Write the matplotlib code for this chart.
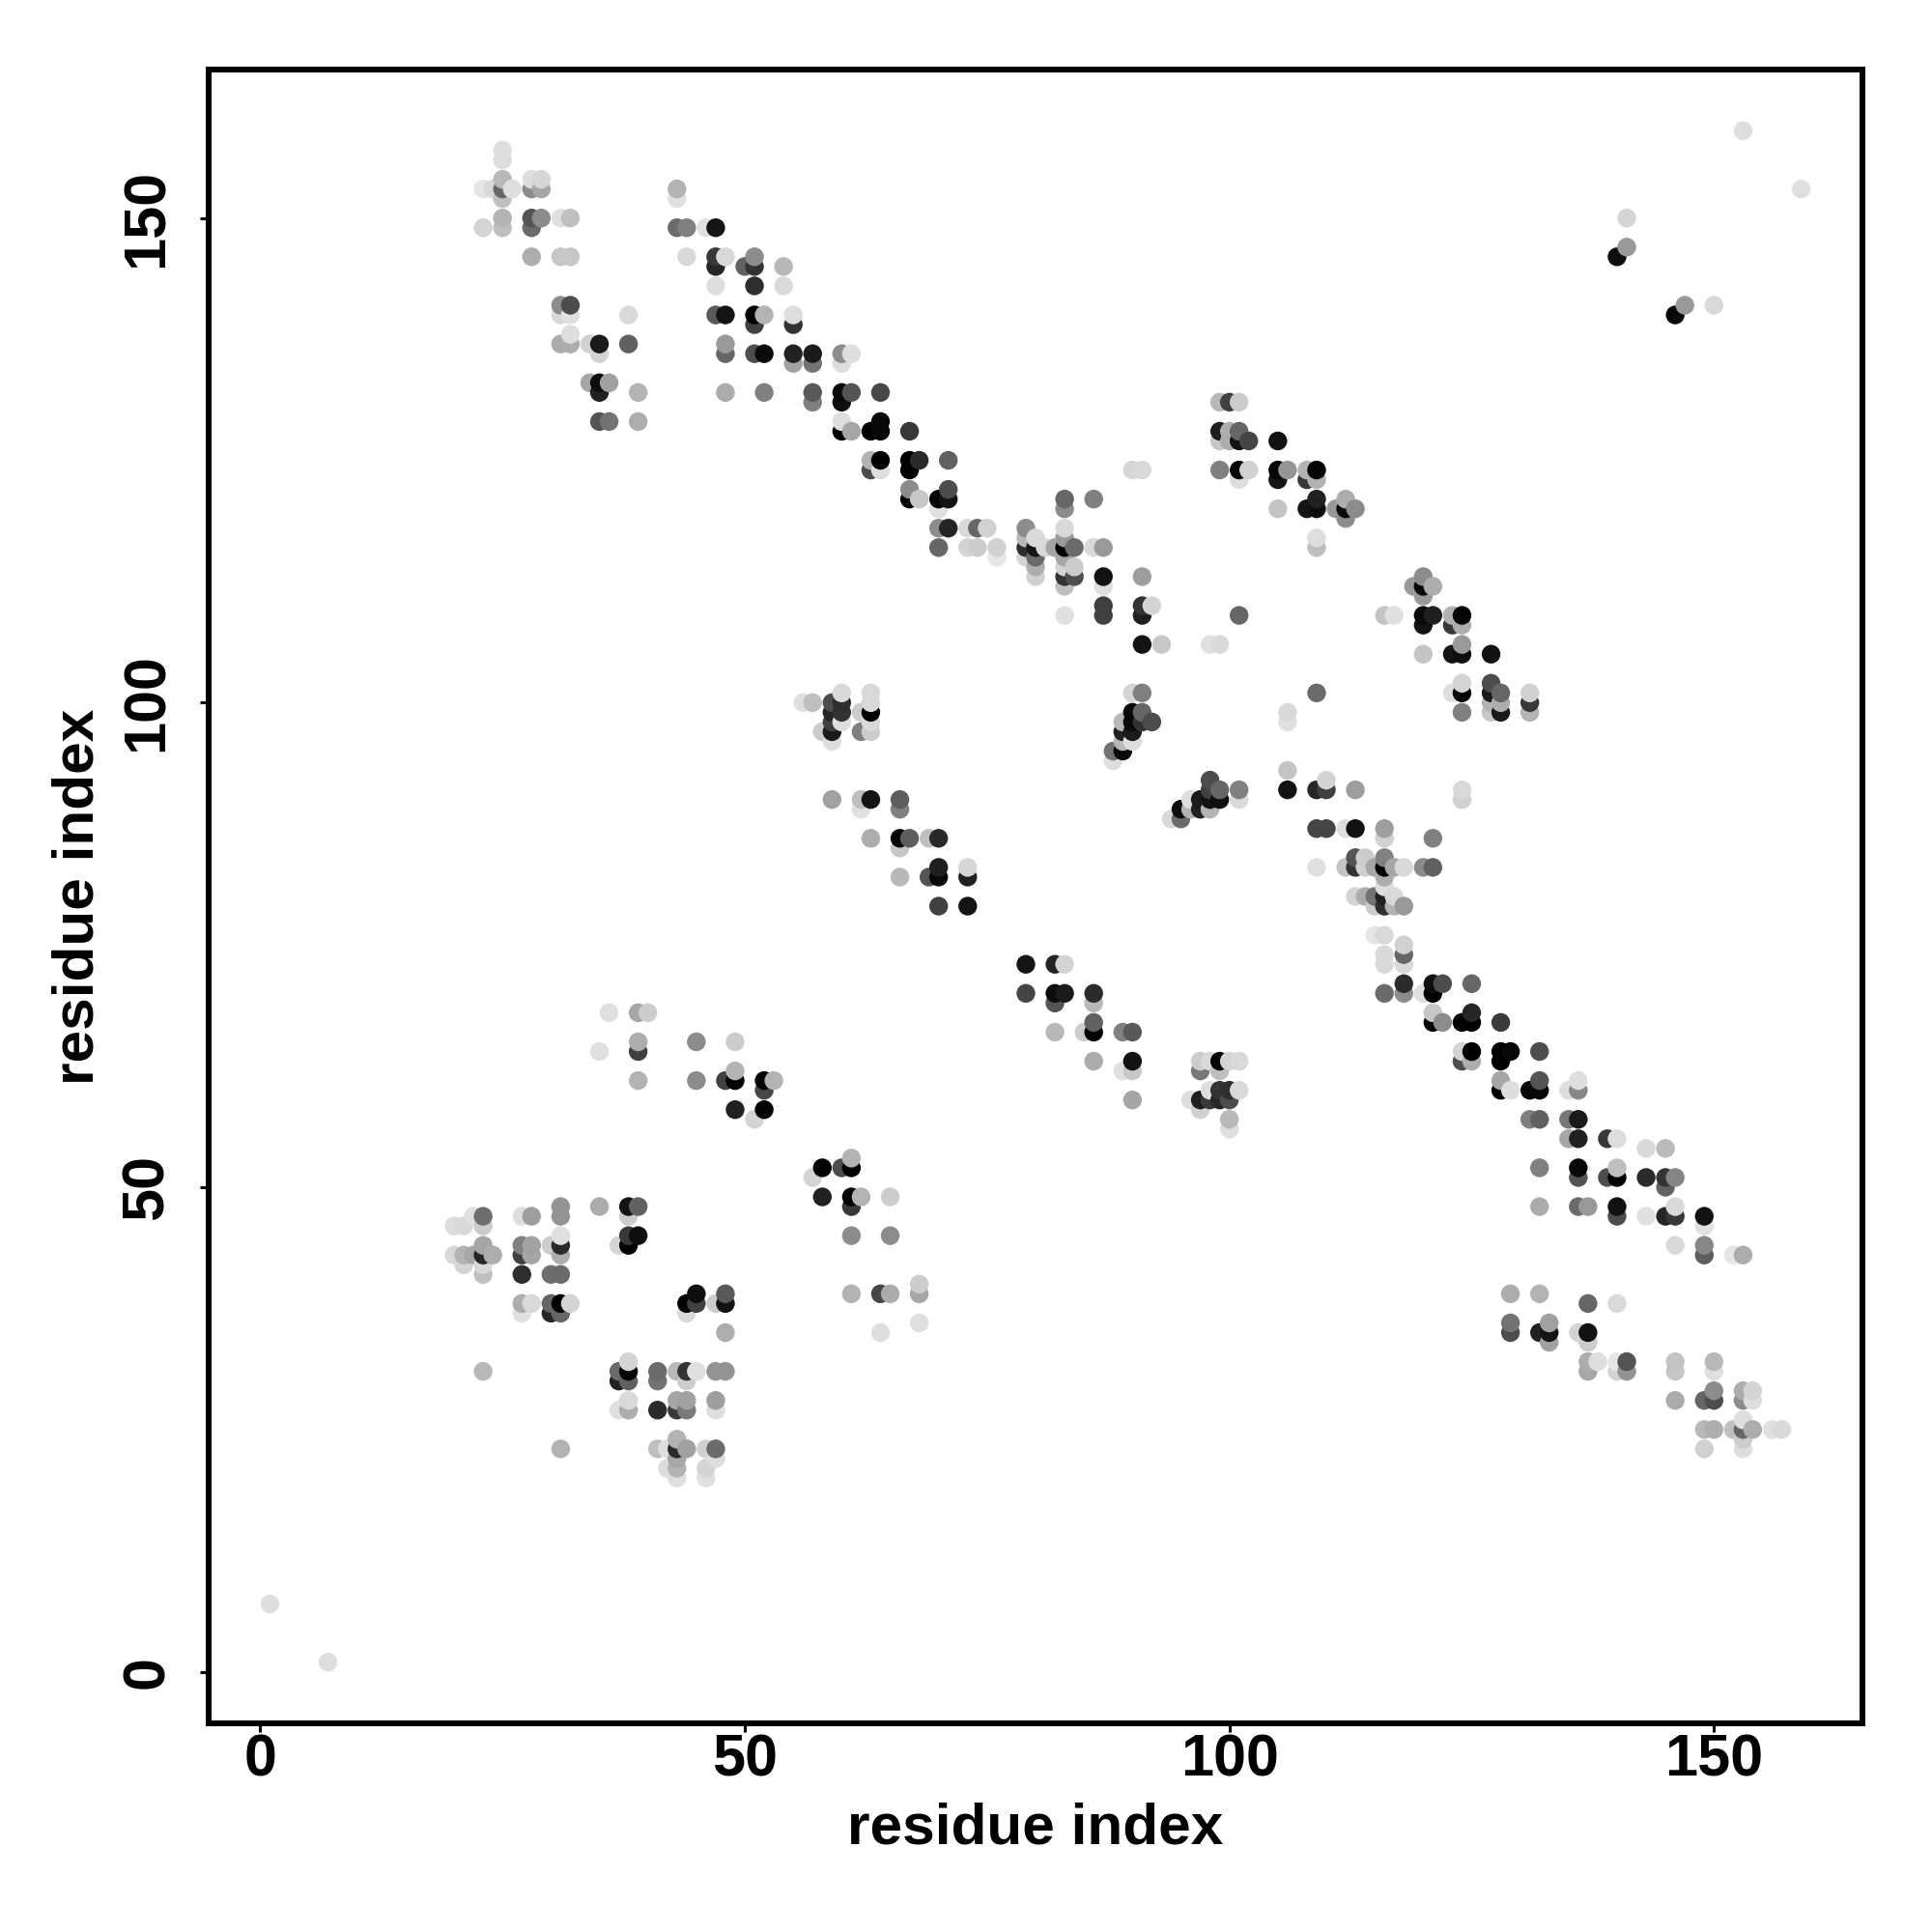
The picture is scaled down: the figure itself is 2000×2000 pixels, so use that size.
import numpy as np
import matplotlib
matplotlib.use("Agg")
import matplotlib.pyplot as plt

plt.rcParams['font.family'] = ['Liberation Sans', 'DejaVu Sans']

# residue pairs, one block per row of contacts (y, then x + shade)
rows = {
    159: [(153, .87)],
    157: [(25, .87)],
    156: [(25, .87)],
    154: [(25, .72), (28, .87), (29, .84)],
    153: [(23, .9), (24, .85), (25, .4), (26, .87), (28, .55), (29, .65), (43, .7), (159, .88)],
    152: [(25, .75), (43, .88)],
    150: [(25, .7), (28, .33), (29, .55), (31, .88), (32, .75), (141, .83)],
    149: [(23, .83), (25, .75), (28, .42), (43, .42), (44, .5), (46, .88), (47, .08)],
    147: [(141, .6)],
    146: [(28, .68), (31, .78), (32, .78), (44, .85), (47, .22), (48, .85), (51, .55), (140, .05)],
    145: [(47, .15), (50, .38), (51, .2), (54, .72)],
    143: [(47, .87), (51, .18), (54, .85)],
    141: [(31, .55), (32, .3), (147, .6), (150, .85)],
    140: [(31, .85), (32, .88), (38, .85), (47, .35), (48, .08), (51, 0), (52, .7), (55, .87), (146, .03)],
    139: [(51, .25), (55, .2)],
    138: [(32, .87)],
    137: [(31, .67), (32, .68), (34, .82), (35, .1), (38, .38), (48, .6)],
    136: [(35, .83), (48, .4), (51, .3), (52, .04), (55, .13), (57, .1), (60, .55), (61, .87)],
    135: [(55, .63), (57, .45), (60, .87)],
    133: [(34, .65), (35, .05), (36, .63)],
    132: [(35, .13), (39, .7), (48, .67), (52, .5), (57, .35), (60, .04), (61, .33), (64, .28)],
    131: [(57, .5), (60, .06), (99, .72), (100, .25), (101, .8)],
    129: [(35, .33), (36, .45), (39, .68), (60, .87), (64, .03)],
    128: [(60, 0), (61, .65), (63, 0), (64, .03), (67, .22), (99, .12), (100, .68), (101, .4)],
    127: [(99, .78), (100, .68), (101, .08), (102, .27), (105, .07)],
    125: [(63, .7), (64, 0), (67, 0), (68, .17), (71, .38)],
    124: [(63, .3), (64, .87), (67, 0), (90, .84), (91, .85), (99, .5), (101, .03), (102, .82),
          (105, .02), (106, .58), (108, .7), (109, .02)],
    123: [(101, .87), (105, .08), (108, .22), (109, .7)],
    122: [(67, .55), (71, .3)],
    121: [(67, 0), (68, .78), (70, .02), (71, .08), (83, .4), (86, .5), (109, .13), (112, .68)],
    120: [(70, .88), (83, .55), (105, .77), (108, .08), (109, .05), (111, .6), (112, .03), (113, .55)],
    119: [(112, .55)],
    118: [(70, .55), (71, .14), (73, .85), (74, .4), (75, .82), (79, .55), (83, .85)],
    117: [(79, .72), (80, .85), (83, .6), (109, .87)],
    116: [(70, .4), (73, .83), (74, .8), (76, .82), (79, .18), (80, .08), (81, .85), (82, .65),
          (83, 0), (84, .42), (86, .85), (87, .6), (109, .75)],
    115: [(76, .9), (79, .83), (80, .42), (83, .65)],
    114: [(80, .68), (83, .83), (84, .8)],
    113: [(80, .82), (83, .2), (84, .3), (87, .07), (91, .62), (120, .55)],
    112: [(83, .75), (87, .87), (119, .6), (120, .02), (121, .68)],
    111: [(120, .6)],
    110: [(87, .25), (91, .2), (92, .83)],
    109: [(83, .88), (87, .25), (91, .12), (101, .4), (116, .77), (117, .88), (120, .03), (121, .12),
          (123, .7), (124, .02)],
    108: [(120, .07), (123, .22), (124, .68)],
    106: [(91, .07), (93, .78), (98, .88), (99, .85), (124, .6)],
    105: [(120, .77), (123, .08), (124, .05), (127, .07)],
    102: [(124, .83), (127, .3)],
    101: [(60, .85), (63, .85), (90, .83), (91, .5), (109, .42), (123, .87), (124, .02), (127, .1),
          (128, .4), (131, .82)],
    100: [(56, .87), (57, .75), (59, .3), (60, .18), (63, .85), (127, .7), (128, .68), (131, .22)],
    99: [(59, .15), (60, .2), (62, .8), (63, 0), (90, .03), (91, .4), (106, .85), (124, .5),
         (127, .78), (128, .1), (131, .7)],
    98: [(59, .25), (60, .87), (63, .85), (89, .72), (90, .03), (91, .2), (92, .3), (106, .88)],
    97: [(58, .8), (59, .1), (62, .5), (63, .8), (89, .13), (90, .1)],
    96: [(59, .87), (89, .72), (90, .87)],
    95: [(88, .45), (89, .03)],
    94: [(88, .87)],
    93: [(106, .77)],
    92: [(98, .3), (110, .83)],
    91: [(98, .25), (99, .4), (101, .5), (106, .07), (109, .15), (110, .25), (113, .62), (124, .85)],
    90: [(59, .63), (62, .75), (63, .08), (66, .37), (96, .87), (97, .1), (98, .07), (99, .06),
         (101, .85), (124, .82)],
    89: [(62, .88), (66, .5), (95, .05), (96, .7), (97, .13), (98, .7)],
    88: [(94, .85), (95, .42)],
    87: [(109, .27), (110, .27), (112, .87), (113, .07), (116, .62)],
    86: [(63, .68), (66, .03), (67, .37), (69, .75), (70, .16), (116, .82), (121, .5)],
    85: [(66, .78)],
    84: [(113, .33), (114, .8), (116, .5)],
    83: [(70, .12), (73, .84), (109, .88), (112, .77), (113, .2), (114, .82), (115, .65), (116, 0),
         (117, .65), (118, .85), (120, .55), (121, .38)],
    82: [(66, .72), (69, .33), (70, .03), (73, .13), (116, .68)],
    81: [(116, .87)],
    80: [(113, .83), (114, .68), (115, .45), (116, .13), (117, .85)],
    79: [(70, .25), (73, .08), (115, .8), (116, .18), (117, .7), (118, .6)],
    76: [(115, .9), (116, .85)],
    75: [(118, .82)],
    74: [(116, .85), (118, .4)],
    73: [(79, .08), (82, .14), (83, .83), (116, .85), (118, .85)],
    71: [(118, .17), (121, .06), (122, .3), (125, .4)],
    70: [(79, .27), (82, .05), (83, .1), (86, .17), (116, .42), (118, .55), (120, .88), (121, 0)],
    69: [(82, .33), (86, .72)],
    68: [(36, .88), (39, .65), (40, .8), (121, .78), (125, .15)],
    67: [(86, .38), (121, 0), (122, .55), (124, 0), (125, 0), (128, .23)],
    66: [(82, .72), (85, .8), (86, 0), (89, .5), (90, .35)],
    65: [(39, .68), (45, .55), (49, .8)],
    64: [(35, .88), (39, .25), (124, .83), (125, 0), (128, 0), (129, .03), (132, .3)],
    63: [(86, .67), (90, .07), (97, .8), (98, .85), (99, .02), (100, .83), (101, .85), (124, .3),
         (125, .68), (128, 0)],
    62: [(49, .7), (89, .88), (90, .78), (97, .47), (99, .75)],
    61: [(39, .7), (45, .55), (48, .25), (49, 0), (52, .02), (53, .7), (128, .65), (132, .33), (136, .87)],
    60: [(52, .28), (98, .87), (99, .2), (100, .18), (101, .85), (128, 0), (129, .87), (131, .03),
         (132, .03), (135, .87), (136, .53)],
    59: [(90, .65), (96, .87), (97, .12), (98, .22), (99, .15), (100, .3)],
    58: [(49, .13), (52, .02), (97, .82)],
    57: [(51, .83), (100, .72), (131, .5), (132, .38), (135, .47), (136, .1)],
    56: [(100, .87)],
    55: [(135, .65), (136, .13), (139, .22), (140, .87)],
    54: [(143, .85), (145, .73)],
    53: [(61, .7)],
    52: [(58, .02), (60, .3), (61, 0), (132, .5), (136, .03), (140, .75)],
    51: [(57, .83), (136, .33), (139, .3), (140, 0), (143, .17), (145, .2), (146, .52)],
    50: [(145, .38)],
    49: [(58, .13), (61, 0), (62, .7), (65, .8)],
    48: [(31, .58), (35, .67), (38, .08), (39, .38), (61, .22), (132, .67), (136, .42), (137, .6),
         (140, .07), (146, .85)],
    47: [(22, .88), (23, .43), (27, .87), (28, .62), (31, .58), (38, .8), (140, .3), (143, .88),
         (145, .15), (146, .22), (149, .07)],
    46: [(20, .87), (21, .85), (23, .8), (149, .88)],
    45: [(31, .88), (38, .22), (39, .06), (61, .55), (65, .55)],
    44: [(23, .65), (27, .5), (28, .63), (30, .8), (31, .17), (37, .83), (38, 0), (146, .85), (149, .53)],
    43: [(20, .85), (21, .7), (22, .65), (23, .15), (24, .68), (27, .25), (28, .65), (31, .68),
         (149, .37), (152, .9), (153, .68)],
    42: [(21, .83), (23, .85)],
    41: [(23, .75), (27, .18), (30, .43), (31, .42)],
    40: [(68, .8)],
    39: [(45, .06), (48, .35), (61, .7), (64, .27), (65, .67), (68, .65), (129, .68), (132, .7)],
    38: [(27, .68), (28, .85), (30, .4), (31, 0), (32, .83), (44, 0), (45, .25), (47, .8), (48, .07),
         (137, .4), (140, .85)],
    37: [(27, .88), (30, .15), (31, .4), (44, .85)],
    36: [(68, .88), (129, .45), (133, .63)],
    35: [(48, .68), (64, .87), (129, .3), (132, .13), (133, .08), (136, .83), (137, .07)],
    34: [(133, .63), (137, .8)],
    32: [(38, .83), (137, .68), (138, .87), (140, .9), (141, .33), (146, .77), (150, .72)],
    31: [(23, .72), (37, .42), (38, .02), (41, .42), (43, .72), (44, .2), (45, .88), (47, .58),
         (48, .58), (137, .65), (140, .83), (141, .58), (146, .78), (150, .88)],
    30: [(37, .13), (38, .38), (41, .45), (44, .8)],
    29: [(150, .55), (153, .68), (154, .83)],
    28: [(38, .85), (43, .65), (44, .63), (47, .62), (146, .67), (149, .4), (150, .3), (153, .55), (154, .87)],
    27: [(37, .88), (38, .68), (41, .17), (43, .22), (44, .48), (47, .87)],
    26: [(153, .87)],
    25: [(149, .72), (150, .68), (152, .75), (153, .4), (154, .68), (156, .88), (157, .85)],
    24: [(43, .7), (153, .8)],
    23: [(31, .7), (41, .75), (42, .87), (43, .17), (44, .63), (46, .82), (47, .42), (149, .82), (153, .87)],
    22: [(43, .65), (47, .87)],
    21: [(42, .87), (43, .7), (46, .83)],
    20: [(43, .87), (46, .88)],
    7: [(1, .87)],
    1: [(7, .87)],
}
tick_values = [0, 50, 100, 150]

xs, ys, shades = [], [], []
for y, row in rows.items():
    for x, shade in row:
        xs.append(x)
        ys.append(y)
        shades.append(shade)
xs = np.array(xs)
ys = np.array(ys)
shades = np.array(shades)

# later residues are painted over earlier ones
order = np.lexsort((ys, xs))

fig = plt.figure(figsize=(20, 20), dpi=100)
ax = fig.add_axes([216 / 2000, 1 - 1784 / 2000, 1712 / 2000, 1712 / 2000])
ax.scatter(xs[order], ys[order], c=[str(s) for s in shades[order]], s=195, linewidths=0, zorder=3)

ax.set_xlim(-5.32, 165.32)
ax.set_ylim(-5.32, 165.32)
ax.set_xticks(tick_values)
ax.set_yticks(tick_values)
ax.set_xlabel("residue index", fontsize=43.5, fontweight='bold', labelpad=10)
ax.set_ylabel("residue index", fontsize=43.5, fontweight='bold', labelpad=12)
ax.tick_params(axis='x', length=6.5, width=2.2, labelsize=44, pad=1)
ax.tick_params(axis='y', length=6.5, width=2.2, labelsize=44, pad=18)
for lab in ax.get_xticklabels() + ax.get_yticklabels():
    lab.set_fontweight('bold')
for lab in ax.get_yticklabels():
    lab.set_rotation(90)
    lab.set_va('center')
for s in ax.spines.values():
    s.set_linewidth(4.3)

fig.savefig("out.png", dpi=100)
